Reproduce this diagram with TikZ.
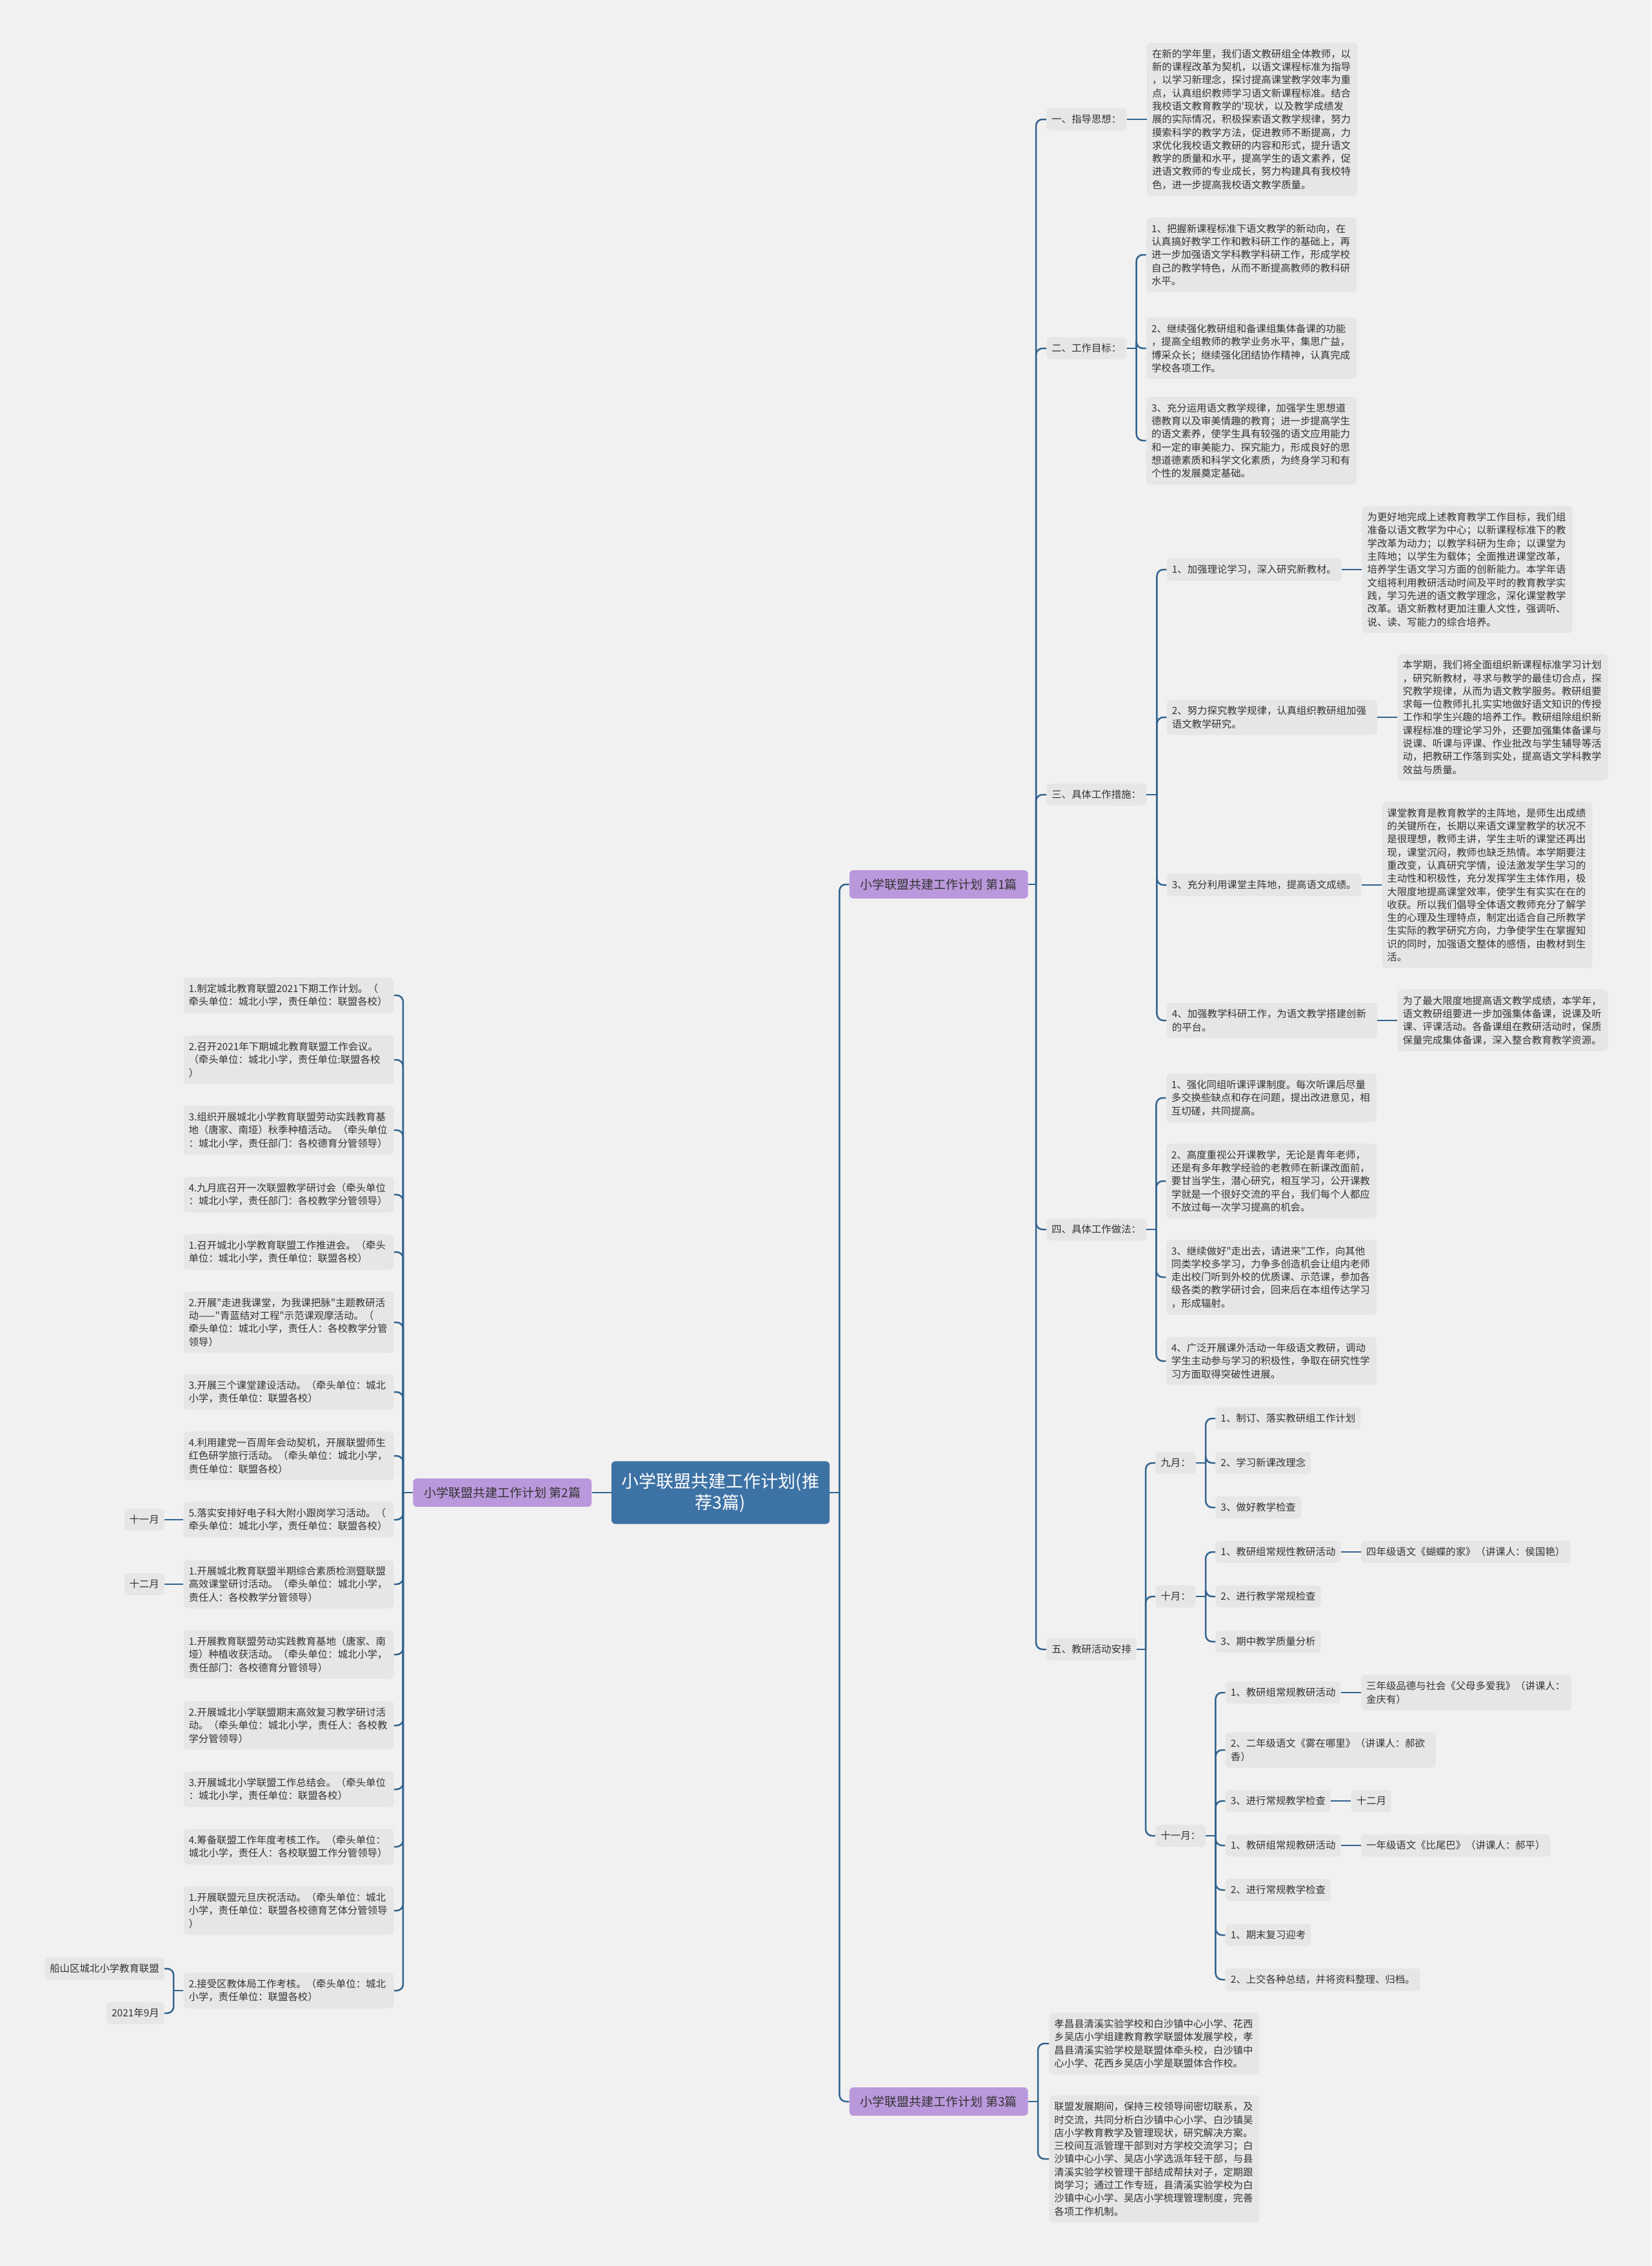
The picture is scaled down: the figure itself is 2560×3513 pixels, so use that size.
\documentclass[tikz,border=0pt]{standalone}
\usepackage{fontspec}
\newfontfamily\cjkfont{Noto Sans CJK SC}
\usetikzlibrary{positioning, calc}
\definecolor{pagegray}{RGB}{241,241,241}
\definecolor{boxgray}{RGB}{230,230,230}
\definecolor{linkblue}{RGB}{51,99,142}
\definecolor{rootblue}{RGB}{61,114,165}
\definecolor{partpurple}{RGB}{186,152,220}
\definecolor{inkgray}{RGB}{51,51,51}

\begin{document}
\begin{tikzpicture}[
    x=0.5pt, y=-0.5pt,
    every node/.style={font=\cjkfont\fontsize{7.7pt}{10.15pt}\selectfont, text=inkgray},
    topicbox/.style={rectangle, rounded corners=3pt, fill=boxgray, inner xsep=4pt, inner ysep=5pt, align=left},
    notebox/.style={topicbox, text width=155pt},
    rootbox/.style={rectangle, rounded corners=3pt, fill=rootblue, text=white, font=\cjkfont\fontsize{13.5pt}{16.5pt}\selectfont, align=center, inner xsep=8pt, inner ysep=9pt},
    partbox/.style={rectangle, rounded corners=3pt, fill=partpurple, font=\cjkfont\fontsize{9.5pt}{11pt}\selectfont, inner xsep=8.5pt, inner ysep=6.5pt},
    linkline/.style={draw=linkblue, line width=1.25pt, rounded corners=5pt}
]
\useasboundingbox (0,0) rectangle (2560,3513);
\fill[pagegray] (0,0) rectangle (2560,3513);

% === ROOT AND PARTS ===
\node[rootbox] (root) at (1117,2314) {小学联盟共建工作计划(推\\荐3篇)};
\node[partbox, anchor=west] (part1) at ([shift={(30,-943)}]root.east) {小学联盟共建工作计划 第1篇};
\node[partbox, anchor=west] (part3) at ([shift={(30,944)}]root.east) {小学联盟共建工作计划 第3篇};
\node[partbox, anchor=east] (part2) at ([xshift=-15pt]root.west) {小学联盟共建工作计划 第2篇};

% === PART 1 SECTIONS ===
\node[topicbox, anchor=west] (sec_guide) at ([shift={(28,-1186)}]part1.east) {一、指导思想：};
\node[topicbox, anchor=west] (sec_goal) at ([shift={(28,-831)}]part1.east) {二、工作目标：};
\node[topicbox, anchor=west] (sec_measure) at ([shift={(28,-139)}]part1.east) {三、具体工作措施：};
\node[topicbox, anchor=west] (sec_method) at ([shift={(28,535)}]part1.east) {四、具体工作做法：};
\node[topicbox, anchor=west] (sec_plan) at ([shift={(28,1186)}]part1.east) {五、教研活动安排};

% guide
\node[notebox, right=15.5pt of sec_guide] (guide_note) {在新的学年里，我们语文教研组全体教师，以\\新的课程改革为契机，以语文课程标准为指导\\，以学习新理念，探讨提高课堂教学效率为重\\点，认真组织教师学习语文新课程标准。结合\\我校语文教育教学的'现状，以及教学成绩发\\展的实际情况，积极探索语文教学规律，努力\\摸索科学的教学方法，促进教师不断提高，力\\求优化我校语文教研的内容和形式，提升语文\\教学的质量和水平，提高学生的语文素养，促\\进语文教师的专业成长，努力构建具有我校特\\色，进一步提高我校语文教学质量。};

% goals
\node[notebox, anchor=west] (goal_a) at ([shift={(30,-145)}]sec_goal.east) {1、把握新课程标准下语文教学的新动向，在\\认真搞好教学工作和教科研工作的基础上，再\\进一步加强语文学科教学科研工作，形成学校\\自己的教学特色，从而不断提高教师的教科研\\水平。};
\node[notebox, anchor=west] (goal_b) at ([shift={(30,0)}]sec_goal.east) {2、继续强化教研组和备课组集体备课的功能\\，提高全组教师的教学业务水平，集思广益，\\博采众长；继续强化团结协作精神，认真完成\\学校各项工作。};
\node[notebox, anchor=west] (goal_c) at ([shift={(30,143)}]sec_goal.east) {3、充分运用语文教学规律，加强学生思想道\\德教育以及审美情趣的教育；进一步提高学生\\的语文素养，使学生具有较强的语文应用能力\\和一定的审美能力、探究能力，形成良好的思\\想道德素质和科学文化素质，为终身学习和有\\个性的发展奠定基础。};

% measures
\node[topicbox, anchor=west] (measure_a) at ([shift={(31,-349)}]sec_measure.east) {1、加强理论学习，深入研究新教材。};
\node[notebox, anchor=west] (measure_b) at ([shift={(31,-120)}]sec_measure.east) {2、努力探究教学规律，认真组织教研组加强\\语文教学研究。};
\node[topicbox, anchor=west] (measure_c) at ([shift={(31,140)}]sec_measure.east) {3、充分利用课堂主阵地，提高语文成绩。};
\node[notebox, anchor=west] (measure_d) at ([shift={(31,350)}]sec_measure.east) {4、加强教学科研工作，为语文教学搭建创新\\的平台。};

\node[notebox, right=15.5pt of measure_a] (measure_a_note) {为更好地完成上述教育教学工作目标，我们组\\准备以语文教学为中心；以新课程标准下的教\\学改革为动力；以教学科研为生命；以课堂为\\主阵地；以学生为载体；全面推进课堂改革，\\培养学生语文学习方面的创新能力。本学年语\\文组将利用教研活动时间及平时的教育教学实\\践，学习先进的语文教学理念，深化课堂教学\\改革。语文新教材更加注重人文性，强调听、\\说、读、写能力的综合培养。};
\node[notebox, right=15.5pt of measure_b] (measure_b_note) {本学期，我们将全面组织新课程标准学习计划\\，研究新教材，寻求与教学的最佳切合点，探\\究教学规律，从而为语文教学服务。教研组要\\求每一位教师扎扎实实地做好语文知识的传授\\工作和学生兴趣的培养工作。教研组除组织新\\课程标准的理论学习外，还要加强集体备课与\\说课、听课与评课、作业批改与学生辅导等活\\动，把教研工作落到实处，提高语文学科教学\\效益与质量。};
\node[notebox, right=15.5pt of measure_c] (measure_c_note) {课堂教育是教育教学的主阵地，是师生出成绩\\的关键所在，长期以来语文课堂教学的状况不\\是很理想，教师主讲，学生主听的课堂还再出\\现，课堂沉闷，教师也缺乏热情。本学期要注\\重改变，认真研究学情，设法激发学生学习的\\主动性和积极性，充分发挥学生主体作用，极\\大限度地提高课堂效率，使学生有实实在在的\\收获。所以我们倡导全体语文教师充分了解学\\生的心理及生理特点，制定出适合自己所教学\\生实际的教学研究方向，力争使学生在掌握知\\识的同时，加强语文整体的感悟，由教材到生\\活。};
\node[notebox, right=15.5pt of measure_d] (measure_d_note) {为了最大限度地提高语文教学成绩，本学年，\\语文教研组要进一步加强集体备课，说课及听\\课、评课活动。各备课组在教研活动时，保质\\保量完成集体备课，深入整合教育教学资源。};

% methods
\node[notebox, anchor=west] (method_a) at ([shift={(30,-204)}]sec_method.east) {1、强化同组听课评课制度。每次听课后尽量\\多交换些缺点和存在问题，提出改进意见，相\\互切磋，共同提高。};
\node[notebox, anchor=west] (method_b) at ([shift={(30,-75)}]sec_method.east) {2、高度重视公开课教学，无论是青年老师，\\还是有多年教学经验的老教师在新课改面前，\\要甘当学生，潜心研究，相互学习，公开课教\\学就是一个很好交流的平台，我们每个人都应\\不放过每一次学习提高的机会。};
\node[notebox, anchor=west] (method_c) at ([shift={(30,74)}]sec_method.east) {3、继续做好"走出去，请进来"工作，向其他\\同类学校多学习，力争多创造机会让组内老师\\走出校门听到外校的优质课、示范课，参加各\\级各类的教学研讨会，回来后在本组传达学习\\，形成辐射。};
\node[notebox, anchor=west] (method_d) at ([shift={(30,204)}]sec_method.east) {4、广泛开展课外活动一年级语文教研，调动\\学生主动参与学习的积极性，争取在研究性学\\习方面取得突破性进展。};

% plan by month
\node[topicbox, anchor=west] (sep) at ([shift={(29,-289)}]sec_plan.east) {九月：};
\node[topicbox, anchor=west] (oct) at ([shift={(29,-82)}]sec_plan.east) {十月：};
\node[topicbox, anchor=west] (nov) at ([shift={(29,289)}]sec_plan.east) {十一月：};

\node[topicbox, anchor=west] (sep_a) at ([shift={(30,-69)}]sep.east) {1、制订、落实教研组工作计划};
\node[topicbox, anchor=west] (sep_b) at ([shift={(30,0)}]sep.east) {2、学习新课改理念};
\node[topicbox, anchor=west] (sep_c) at ([shift={(30,69)}]sep.east) {3、做好教学检查};

\node[topicbox, anchor=west] (oct_a) at ([shift={(30,-69)}]oct.east) {1、教研组常规性教研活动};
\node[topicbox, anchor=west] (oct_b) at ([shift={(30,0)}]oct.east) {2、进行教学常规检查};
\node[topicbox, anchor=west] (oct_c) at ([shift={(30,70)}]oct.east) {3、期中教学质量分析};
\node[topicbox, right=15.5pt of oct_a] (oct_a_note) {四年级语文《蝴蝶的家》（讲课人：侯国艳）};

\node[topicbox, anchor=west] (nov_a) at ([shift={(30,-222)}]nov.east) {1、教研组常规教研活动};
\node[notebox, anchor=west] (nov_b) at ([shift={(30,-133)}]nov.east) {2、二年级语文《雾在哪里》（讲课人：郝欲\\香）};
\node[topicbox, anchor=west] (nov_c) at ([shift={(30,-54)}]nov.east) {3、进行常规教学检查};
\node[topicbox, anchor=west] (nov_d) at ([shift={(30,15)}]nov.east) {1、教研组常规教研活动};
\node[topicbox, anchor=west] (nov_e) at ([shift={(30,84)}]nov.east) {2、进行常规教学检查};
\node[topicbox, anchor=west] (nov_f) at ([shift={(30,154)}]nov.east) {1、期末复习迎考};
\node[topicbox, anchor=west] (nov_g) at ([shift={(30,223)}]nov.east) {2、上交各种总结，并将资料整理、归档。};
\node[notebox, right=15.5pt of nov_a] (nov_a_note) {三年级品德与社会《父母多爱我》（讲课人：\\金庆有）};
\node[topicbox, right=15.5pt of nov_c] (nov_c_note) {十二月};
\node[topicbox, right=15.5pt of nov_d] (nov_d_note) {一年级语文《比尾巴》（讲课人：郝平）};

% === PART 3 ===
\node[notebox, anchor=west] (union_a) at ([shift={(32,-90)}]part3.east) {孝昌县清溪实验学校和白沙镇中心小学、花西\\乡吴店小学组建教育教学联盟体发展学校，孝\\昌县清溪实验学校是联盟体牵头校，白沙镇中\\心小学、花西乡吴店小学是联盟体合作校。};
\node[notebox, anchor=west] (union_b) at ([shift={(32,89)}]part3.east) {联盟发展期间，保持三校领导间密切联系，及\\时交流，共同分析白沙镇中心小学、白沙镇吴\\店小学教育教学及管理现状，研究解决方案。\\三校间互派管理干部到对方学校交流学习；白\\沙镇中心小学、吴店小学选派年轻干部，与县\\清溪实验学校管理干部结成帮扶对子，定期跟\\岗学习；通过工作专班，县清溪实验学校为白\\沙镇中心小学、吴店小学梳理管理制度，完善\\各项工作机制。};

% === PART 2 (LEFT) ===
\node[notebox, anchor=east] (l1) at ([shift={(-29,-771)}]part2.west) {1.制定城北教育联盟2021下期工作计划。（\\牵头单位：城北小学，责任单位：联盟各校）};
\node[notebox, anchor=east] (l2) at ([shift={(-29,-671)}]part2.west) {2.召开2021年下期城北教育联盟工作会议。\\（牵头单位：城北小学，责任单位:联盟各校\\）};
\node[notebox, anchor=east] (l3) at ([shift={(-29,-562)}]part2.west) {3.组织开展城北小学教育联盟劳动实践教育基\\地（唐家、南垭）秋季种植活动。（牵头单位\\：城北小学，责任部门：各校德育分管领导）};
\node[notebox, anchor=east] (l4) at ([shift={(-29,-462)}]part2.west) {4.九月底召开一次联盟教学研讨会（牵头单位\\：城北小学，责任部门：各校教学分管领导）};
\node[notebox, anchor=east] (l5) at ([shift={(-29,-373)}]part2.west) {1.召开城北小学教育联盟工作推进会。（牵头\\单位：城北小学，责任单位：联盟各校）};
\node[notebox, anchor=east] (l6) at ([shift={(-29,-264)}]part2.west) {2.开展"走进我课堂，为我课把脉"主题教研活\\动——"青蓝结对工程"示范课观摩活动。（\\牵头单位：城北小学，责任人：各校教学分管\\领导）};
\node[notebox, anchor=east] (l7) at ([shift={(-29,-156)}]part2.west) {3.开展三个课堂建设活动。（牵头单位：城北\\小学，责任单位：联盟各校）};
\node[notebox, anchor=east] (l8) at ([shift={(-29,-57)}]part2.west) {4.利用建党一百周年会动契机，开展联盟师生\\红色研学旅行活动。（牵头单位：城北小学，\\责任单位：联盟各校）};
\node[notebox, anchor=east] (l9) at ([shift={(-29,42)}]part2.west) {5.落实安排好电子科大附小跟岗学习活动。（\\牵头单位：城北小学，责任单位：联盟各校）};
\node[notebox, anchor=east] (l10) at ([shift={(-29,142)}]part2.west) {1.开展城北教育联盟半期综合素质检测暨联盟\\高效课堂研讨活动。（牵头单位：城北小学，\\责任人：各校教学分管领导）};
\node[notebox, anchor=east] (l11) at ([shift={(-29,251)}]part2.west) {1.开展教育联盟劳动实践教育基地（唐家、南\\垭）种植收获活动。（牵头单位：城北小学，\\责任部门：各校德育分管领导）};
\node[notebox, anchor=east] (l12) at ([shift={(-29,361)}]part2.west) {2.开展城北小学联盟期末高效复习教学研讨活\\动。（牵头单位：城北小学，责任人：各校教\\学分管领导）};
\node[notebox, anchor=east] (l13) at ([shift={(-29,460)}]part2.west) {3.开展城北小学联盟工作总结会。（牵头单位\\：城北小学，责任单位：联盟各校）};
\node[notebox, anchor=east] (l14) at ([shift={(-29,549)}]part2.west) {4.筹备联盟工作年度考核工作。（牵头单位：\\城北小学，责任人：各校联盟工作分管领导）};
\node[notebox, anchor=east] (l15) at ([shift={(-29,648)}]part2.west) {1.开展联盟元旦庆祝活动。（牵头单位：城北\\小学，责任单位：联盟各校德育艺体分管领导\\）};
\node[notebox, anchor=east] (l16) at ([shift={(-29,772)}]part2.west) {2.接受区教体局工作考核。（牵头单位：城北\\小学，责任单位：联盟各校）};

\node[topicbox, left=14.5pt of l9] (l9_month) {十一月};
\node[topicbox, left=14.5pt of l10] (l10_month) {十二月};
\node[topicbox, anchor=east] (l16_org) at ([shift={(-29,-34)}]l16.west) {船山区城北小学教育联盟};
\node[topicbox, anchor=east] (l16_date) at ([shift={(-29,35)}]l16.west) {2021年9月};

% === CONNECTORS ===
% root
\coordinate (j_root) at ([xshift=7.5pt]root.east);
\draw[linkline] (root.east) -- (j_root);
\draw[linkline] (j_root) |- (part1.west);
\draw[linkline] (j_root) |- (part3.west);
\draw[linkline] (root.west) -- (part2.east);

% part 1
\coordinate (j_part1) at ([xshift=6pt]part1.east);
\draw[linkline] (part1.east) -- (j_part1);
\foreach \s in {sec_guide, sec_goal, sec_measure, sec_method, sec_plan}
    \draw[linkline] (j_part1) |- (\s.west);
\draw[linkline] (sec_guide.east) -- (guide_note.west);

\coordinate (j_goal) at ([xshift=7.5pt]sec_goal.east);
\draw[linkline] (sec_goal.east) -- (j_goal);
\foreach \c in {goal_a, goal_b, goal_c}
    \draw[linkline] (j_goal) |- (\c.west);

\coordinate (j_measure) at ([xshift=8pt]sec_measure.east);
\draw[linkline] (sec_measure.east) -- (j_measure);
\foreach \c in {measure_a, measure_b, measure_c, measure_d} {
    \draw[linkline] (j_measure) |- (\c.west);
    \draw[linkline] (\c.east) -- (\c_note.west);
}

\coordinate (j_method) at ([xshift=7.5pt]sec_method.east);
\draw[linkline] (sec_method.east) -- (j_method);
\foreach \c in {method_a, method_b, method_c, method_d}
    \draw[linkline] (j_method) |- (\c.west);

\coordinate (j_plan) at ([xshift=7pt]sec_plan.east);
\draw[linkline] (sec_plan.east) -- (j_plan);
\foreach \c in {sep, oct, nov}
    \draw[linkline] (j_plan) |- (\c.west);

\coordinate (j_sep) at ([xshift=7.5pt]sep.east);
\draw[linkline] (sep.east) -- (j_sep);
\foreach \c in {sep_a, sep_b, sep_c}
    \draw[linkline] (j_sep) |- (\c.west);

\coordinate (j_oct) at ([xshift=7.5pt]oct.east);
\draw[linkline] (oct.east) -- (j_oct);
\foreach \c in {oct_a, oct_b, oct_c}
    \draw[linkline] (j_oct) |- (\c.west);
\draw[linkline] (oct_a.east) -- (oct_a_note.west);

\coordinate (j_nov) at ([xshift=7.5pt]nov.east);
\draw[linkline] (nov.east) -- (j_nov);
\foreach \c in {nov_a, nov_b, nov_c, nov_d, nov_e, nov_f, nov_g}
    \draw[linkline] (j_nov) |- (\c.west);
\foreach \c in {nov_a, nov_c, nov_d}
    \draw[linkline] (\c.east) -- (\c_note.west);

% part 3
\coordinate (j_part3) at ([xshift=7.5pt]part3.east);
\draw[linkline] (part3.east) -- (j_part3);
\foreach \c in {union_a, union_b}
    \draw[linkline] (j_part3) |- (\c.west);

% part 2
\coordinate (j_part2) at ([xshift=-7.5pt]part2.west);
\draw[linkline] (part2.west) -- (j_part2);
\foreach \i in {1,...,16}
    \draw[linkline] (j_part2) |- (l\i.east);
\draw[linkline] (l9.west) -- (l9_month.east);
\draw[linkline] (l10.west) -- (l10_month.east);
\coordinate (j_l16) at ([xshift=-7.5pt]l16.west);
\draw[linkline] (l16.west) -- (j_l16);
\draw[linkline] (j_l16) |- (l16_org.east);
\draw[linkline] (j_l16) |- (l16_date.east);

\end{tikzpicture}
\end{document}
